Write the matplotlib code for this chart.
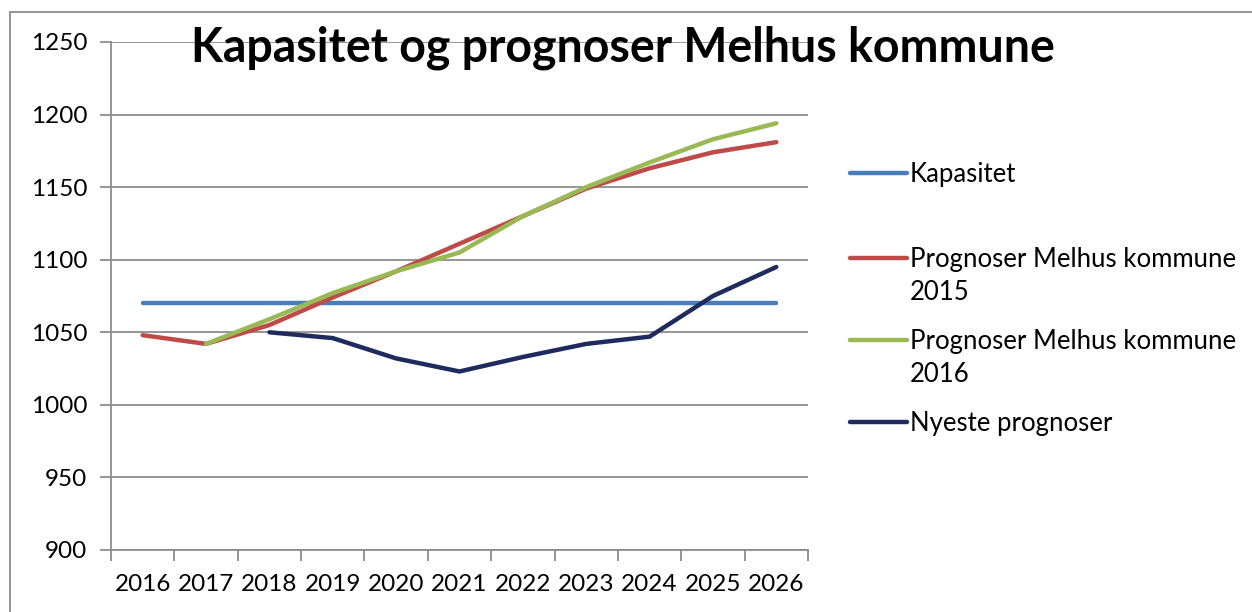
import matplotlib.pyplot as plt
from matplotlib.lines import Line2D
from matplotlib.patches import Rectangle
import numpy as np

plt.rcParams['font.family'] = ['Lato', 'DejaVu Sans']

# data
years = ['2016', '2017', '2018', '2019', '2020', '2021', '2022', '2023', '2024', '2025', '2026']
kapasitet = [1070] * 11
prog_2015 = [1048, 1042, 1055, 1074, 1092, 1111, 1130, 1149, 1163, 1174, 1181]
prog_2016 = [None, 1042, 1059, 1077, 1092, 1105, 1130, 1150, 1167, 1183, 1194]
nyeste = [None, None, 1050, 1046, 1032, 1023, 1033, 1042, 1047, 1075, 1095]

series = [
    ('Kapasitet', kapasitet, '#4A7EBB'),
    ('Prognoser Melhus kommune\n2015', prog_2015, '#BE4B48'),
    ('Prognoser Melhus kommune\n2016', prog_2016, '#98B954'),
    ('Nyeste prognoser', nyeste, '#1F2A5E'),
]

W, H = 1252, 612
fig = plt.figure(figsize=(W / 100, H / 100), dpi=100)
ax = fig.add_axes([111 / W, 62 / H, (808 - 111) / W, (550 - 42) / H])

x = np.arange(len(years))
for name, vals, col in series:
    y = np.array([np.nan if v is None else v for v in vals], dtype=float)
    ax.plot(x, y, color=col, lw=3.2, solid_capstyle='round', solid_joinstyle='round')

ax.set_xlim(-0.5, len(years) - 0.5)
ax.set_ylim(900, 1250)
ax.set_yticks(np.arange(900, 1251, 50))
ax.yaxis.grid(True, color='#8c8c8c', lw=1.3)
ax.set_axisbelow(True)

ax.set_xticks(x)
ax.set_xticklabels(years, fontsize=17.5)
ax.tick_params(axis='x', length=0, pad=17)
ax.set_xticks(np.arange(-0.5, len(years)), minor=True)
ax.tick_params(axis='x', which='minor', length=8, color='#8c8c8c', width=1.3)
ax.tick_params(axis='y', length=8, color='#8c8c8c', width=1.3, labelsize=17.5, pad=9)

for s in ['top', 'right']:
    ax.spines[s].set_visible(False)
for s in ['left', 'bottom']:
    ax.spines[s].set_color('#8c8c8c')
    ax.spines[s].set_linewidth(1.3)

fig.text(623 / W, 1 - 48 / H, 'Kapasitet og prognoser Melhus kommune',
         ha='center', va='center', fontsize=33.5, fontweight='bold')

# legend drawn by hand so the keys line up with the first text line
leg_y = [173, 258, 340, 422]
for (name, vals, col), yy in zip(series, leg_y):
    fy = 1 - yy / H
    fig.add_artist(Line2D([850 / W, 907 / W], [fy, fy], color=col, lw=3.2,
                          solid_capstyle='round', transform=fig.transFigure))
    fig.text(910 / W, fy + 11 / H, name, ha='left', va='top', fontsize=18.5,
             linespacing=1.4)

# outer chart border
fig.add_artist(Rectangle((10 / W, -0.1), 1.2, 1.1 - 12 / H, transform=fig.transFigure,
                         fill=False, edgecolor='#8c8c8c', lw=1.3))

fig.savefig('out.png', dpi=100)
